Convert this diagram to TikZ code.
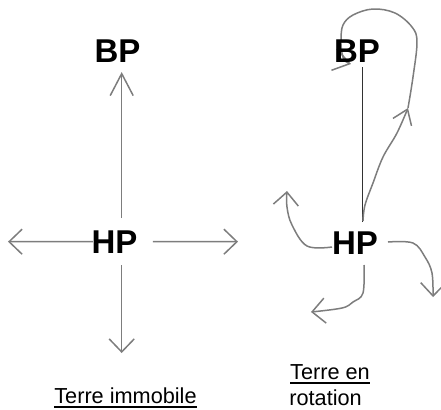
\documentclass[tikz,border=0pt]{standalone}
\usepackage{fontspec}
\setmainfont{Liberation Sans}
\usetikzlibrary{arrows.meta,calc,backgrounds}
\definecolor{lg}{RGB}{125,125,125}
\definecolor{dg}{RGB}{50,50,50}
\newcommand\myul[1]{\setbox0=\hbox{#1}\rlap{\rule[-2.4pt]{\wd0}{0.75pt}}\box0}
\begin{document}
\begin{tikzpicture}[x=0.5pt,y=-0.5pt,
  lbl/.style={font=\bfseries\fontsize{16.5}{20}\selectfont, inner sep=0pt, anchor=base},
  capt/.style={font=\fontsize{10.85}{13}\selectfont, inner sep=0pt, anchor=base},
  arr/.style={draw=lg, line width=0.75pt, -{Straight Barb[length=6.5pt,width=12.5pt]}},
  stem/.style={draw=dg, line width=0.75pt}]
\useasboundingbox (0,0) rectangle (441,409);
% labels
\node[lbl] (BPL) at (117.5,62) {BP};
\node[lbl] (HPL) at (114.5,253) {HP};
\node[lbl] (BPR) at (357,62) {BP};
\node[lbl] (HPR) at (355,254) {HP};
\node[capt] (T1) at (125.5,403) {\myul{Terre immobile}};
\node[capt] (T2) at (330,379) {\myul{Terre en}};
\node[capt, anchor=base west] (T3) at (289,405) {rotation};
% free ends
\coordinate (lL) at (8,241.7);
\coordinate (lR) at (238,241.7);
\coordinate (lD) at (121.7,353);
\coordinate (m1) at (408,108);
\coordinate (e1) at (351,64);
\coordinate (e2) at (287,191);
\coordinate (e3) at (433,297);
\coordinate (e4) at (311,312);
\coordinate (s1) at ($(HPR.base)+(8,-33)$);
\coordinate (s2) at ($(HPR.base)+(-23,-7)$);
\coordinate (s3) at ($(HPR.base)+(33,-12)$);
\coordinate (s4) at ($(HPR.base)+(9,11)$);
\begin{pgfonlayer}{background}
% Terre immobile
\draw[arr, -{Straight Barb[length=11pt,width=11.5pt]}] ($(HPL.base)+(7.2,-35)$) -- ($(BPL.base)+(4.2,10)$);
\draw[arr] ($(HPL.base)+(-21.5,-11.3)$) -- (lL);
\draw[arr] ($(HPL.base)+(38.5,-11.3)$) -- (lR);
\draw[arr] ($(HPL.base)+(7.2,12)$) -- (lD);
% Terre en rotation
\draw[stem] ($(HPR.base)+(7.7,-32)$) -- ($(BPR.base)+(5.7,5)$);
\draw[arr, -{Straight Barb[length=7pt,width=10pt]}] plot[smooth, tension=0.6] coordinates {(s1) (365,205) (373,183) (383,157) (397,133) (m1)};
\draw[arr, -{Straight Barb[length=8pt,width=11pt]}] plot[smooth, tension=0.6] coordinates {(m1) (413,77) (417,42) (412,27) (395,13) (373,9) (353,15) (343,25) (341,40) (342,53) (345,61) (e1)};
\draw[arr] plot[smooth, tension=0.6] coordinates {(s2) (307,246) (292,225) (287,207) (e2)};
\draw[arr] plot[smooth, tension=0.6] coordinates {(s3) (413,243) (425,257) (432,273) (e3)};
\draw[arr] plot[smooth, tension=0.6] coordinates {(s4) (363,293) (353,302) (342,308) (e4)};
\end{pgfonlayer}
\end{tikzpicture}
\end{document}
